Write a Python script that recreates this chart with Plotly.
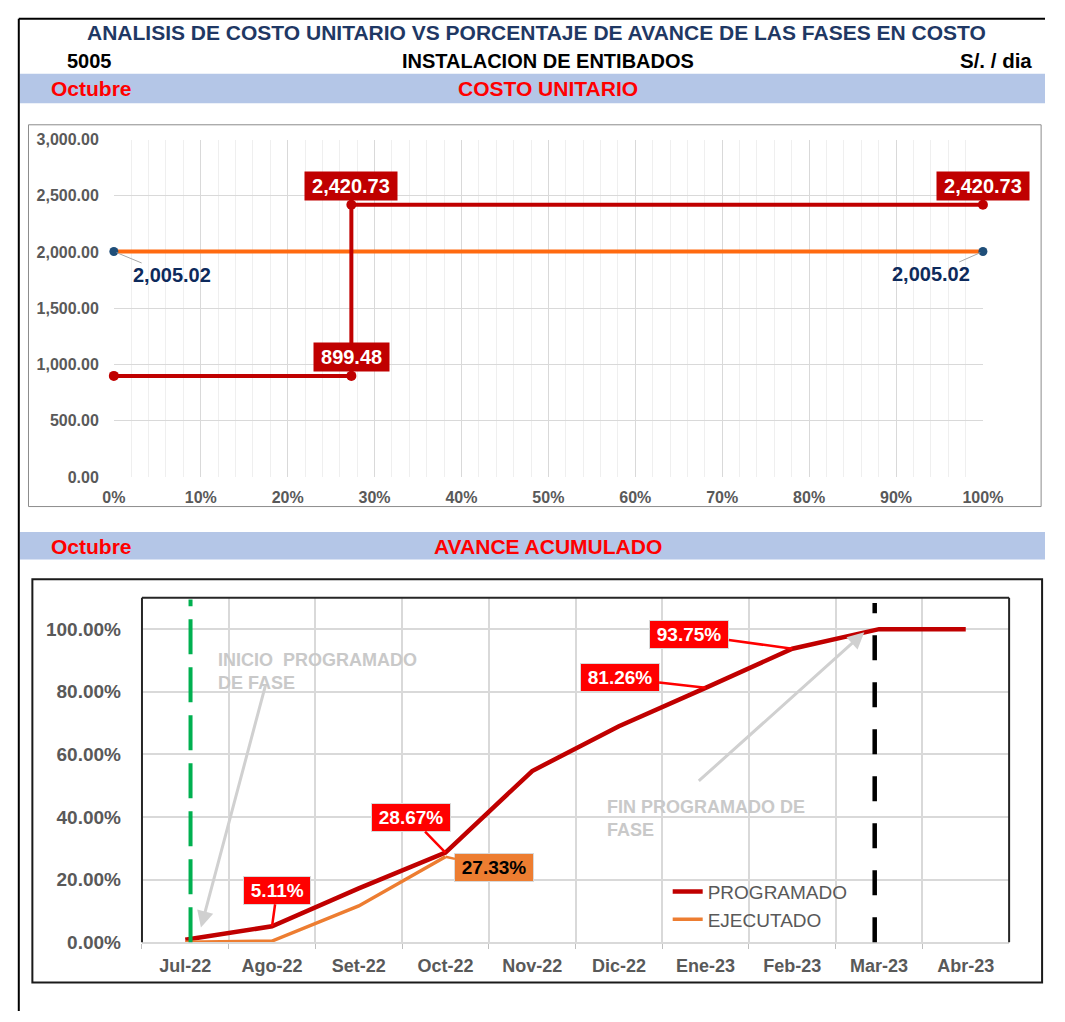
import plotly.graph_objects as go

# ---------------- data ----------------
# Costo unitario (S/. / dia) vs porcentaje de avance
avance_pct = [0.0, 0.2733, 0.2733, 1.0]
costo_programado = [899.48, 899.48, 2420.73, 2420.73]
avance_ejec_pct = [0.0, 1.0]
costo_ejecutado = [2005.02, 2005.02]

# Avance acumulado mensual
meses = ["Jul-22", "Ago-22", "Set-22", "Oct-22", "Nov-22",
         "Dic-22", "Ene-23", "Feb-23", "Mar-23", "Abr-23"]
avance_programado = [0.008, 0.0511, 0.172, 0.2867, 0.547, 0.690, 0.8126, 0.9375, 1.0, 1.0]
avance_ejecutado = [0.0, 0.004, 0.116, 0.2733]

inicio_fase = "Jul-22"
fin_fase = "Mar-23"

# ---------------- styling ----------------
W, H = 1065, 1022
ARIAL = "Liberation Sans, Arial, sans-serif"
GRAY_TXT = "#595959"
GRID = "#D9D9D9"
DARK_RED = "#C00000"
ORANGE_TOP = "#FF6A10"
ORANGE = "#ED7D31"
RED = "#FF0000"
THIN = "\u2009"


def px(x):
    return x / W


def py(y):
    return 1 - y / H


fig = go.Figure()

# ---- top chart: costo unitario ----
fig.add_trace(go.Scatter(
    x=avance_ejec_pct, y=costo_ejecutado, mode="lines+markers",
    line=dict(color=ORANGE_TOP, width=4),
    marker=dict(color="#1F4E79", size=9),
    cliponaxis=False,
    xaxis="x", yaxis="y", showlegend=False, hoverinfo="skip"))
fig.add_trace(go.Scatter(
    x=avance_pct, y=costo_programado, mode="lines+markers",
    line=dict(color=DARK_RED, width=4),
    marker=dict(color=DARK_RED, size=10),
    cliponaxis=False,
    xaxis="x", yaxis="y", showlegend=False, hoverinfo="skip"))

# ---- bottom chart: avance acumulado ----
fig.add_trace(go.Scatter(
    x=meses, y=avance_programado, mode="lines", name="PROGRAMADO",
    line=dict(color=DARK_RED, width=4.5),
    xaxis="x2", yaxis="y2", hoverinfo="skip"))
fig.add_trace(go.Scatter(
    x=meses[:len(avance_ejecutado)], y=avance_ejecutado, mode="lines", name="EJECUTADO",
    line=dict(color=ORANGE, width=3.5),
    xaxis="x2", yaxis="y2", hoverinfo="skip"))

bold_tick = dict(family=ARIAL, size=16, color=GRAY_TXT, weight="bold")

fig.update_layout(
    width=W, height=H,
    margin=dict(l=0, r=0, t=0, b=0),
    paper_bgcolor="white", plot_bgcolor="white",
    xaxis=dict(domain=[px(105), px(1001)], anchor="y", range=[0, 1],
               tick0=0, dtick=0.1, tickformat=".0%",
               showgrid=True, gridcolor=GRID, gridwidth=1,
               minor=dict(dtick=0.02, showgrid=True, gridcolor="#EFEFEF", gridwidth=1),
               zeroline=False, showline=False, ticks="",
               tickfont=bold_tick, ticklabelstandoff=9),
    yaxis=dict(domain=[py(478), py(134)], anchor="x", range=[0, 3000],
               dtick=500, tickformat=",.2f",
               showgrid=True, gridcolor=GRID, gridwidth=1,
               zeroline=False, showline=False, ticks="",
               tickfont=bold_tick, ticklabelstandoff=14),
    xaxis2=dict(domain=[px(134), px(1028)], anchor="y2", type="category",
                categoryorder="array", categoryarray=meses,
                range=[-0.5, len(meses) - 0.5],
                tickson="boundaries", ticks="outside", ticklen=5, tickcolor="#BFBFBF",
                showgrid=True, gridcolor=GRID, gridwidth=1.5,
                showline=True, linecolor=GRID, linewidth=1.5,
                tickfont=dict(family=ARIAL, size=18, color=GRAY_TXT, weight="bold"),
                ticklabelstandoff=6),
    yaxis2=dict(domain=[py(952), py(601)], anchor="x2", range=[0, 1.1],
                dtick=0.2, tickformat=".2%",
                showgrid=True, gridcolor=GRID, gridwidth=1.5,
                zeroline=False, showline=False, ticks="",
                tickfont=dict(family=ARIAL, size=19, color=GRAY_TXT, weight="bold"),
                ticklabelstandoff=20),
    legend=dict(x=px(676), y=py(881), xanchor="left", yanchor="top",
                bgcolor="rgba(0,0,0,0)", itemwidth=30,
                font=dict(family=ARIAL, size=19, color=GRAY_TXT)),
    showlegend=True,
)

shapes = []
# page frame (top and left rules)
shapes.append(dict(type="line", xref="paper", yref="paper", x0=px(7), x1=px(1065),
                   y0=py(11), y1=py(11), line=dict(color="black", width=2)))
shapes.append(dict(type="line", xref="paper", yref="paper", x0=px(7), x1=px(7),
                   y0=py(11), y1=0, line=dict(color="black", width=2)))
# section bands
for y0, y1 in [(67, 97), (534, 562)]:
    shapes.append(dict(type="rect", xref="paper", yref="paper", x0=px(8), x1=1,
                       y0=py(y1), y1=py(y0), fillcolor="#B4C6E7", line=dict(width=0),
                       layer="below"))
# chart frames
shapes.append(dict(type="rect", xref="paper", yref="paper", x0=px(17), x1=px(1061),
                   y0=py(508), y1=py(119), line=dict(color="#8C8C8C", width=1)))
shapes.append(dict(type="rect", xref="paper", yref="paper", x0=px(21), x1=px(1062),
                   y0=py(993), y1=py(582), line=dict(color="#1A1A1A", width=2)))
# bottom plot-area border (left, top, right)
for (a, b, c, d) in [(0, 0, 0, 1), (0, 1, 1, 1), (1, 0, 1, 1)]:
    shapes.append(dict(type="line", xref="x2 domain", yref="y2 domain",
                       x0=a, y0=b, x1=c, y1=d, line=dict(color="#262626", width=2)))
# phase start / end markers
i_ini = meses.index(inicio_fase)
i_fin = meses.index(fin_fase)
shapes.append(dict(type="line", xref="x2", yref="y2 domain", x0=i_ini + 0.06, x1=i_ini + 0.06,
                   y0=0, y1=0.995, line=dict(color="#00B050", width=4, dash="35px,13px")))
shapes.append(dict(type="line", xref="x2", yref="y2 domain", x0=i_fin - 0.05, x1=i_fin - 0.05,
                   y0=0, y1=0.985, line=dict(color="black", width=4.5, dash="25px,22px")))
fig.update_layout(shapes=shapes)

ann = []


def head(text, x, y, size, color, anchor="center", family=ARIAL, weight="bold"):
    ann.append(dict(text=text, x=px(x), y=py(y), xref="paper", yref="paper",
                    xanchor=anchor, yanchor="middle", showarrow=False,
                    font=dict(family=family, size=size, color=color, weight=weight)))


head("ANALISIS DE COSTO UNITARIO VS PORCENTAJE DE AVANCE DE LAS FASES EN COSTO",
     541, 25, 21, "#1F3864")
head("5005", 55, 54, 20, "black", anchor="left")
head("INSTALACION DE ENTIBADOS", 553, 54, 20, "black")
head("S/. / dia", 1054, 54, 20.5, "black", anchor="right")
head("Octubre", 38, 82, 21, RED, anchor="left")
head("COSTO UNITARIO", 553, 82, 21, RED)
head("Octubre", 38, 549, 21, RED, anchor="left")
head("AVANCE ACUMULADO", 553, 549, 21, RED)

# top chart labels
lbl_font = dict(family=ARIAL, size=20, color="white", weight="bold")
for xi, yi in [(avance_pct[1], costo_programado[1]),
               (avance_pct[2], costo_programado[2]),
               (avance_pct[3], costo_programado[3])]:
    ann.append(dict(text=f"{THIN}{yi:,.2f}{THIN}", x=xi, y=yi, xref="x", yref="y",
                    showarrow=False, yshift=19, bgcolor=DARK_RED, borderpad=3,
                    font=lbl_font))
for xi, yi, axo, ayo in [(avance_ejec_pct[0], costo_ejecutado[0], 58, 24),
                         (avance_ejec_pct[1], costo_ejecutado[1], -52, 23)]:
    ann.append(dict(text=f"{yi:,.2f}", x=xi, y=yi, xref="x", yref="y",
                    showarrow=True, arrowhead=0, arrowwidth=1, arrowcolor="#A6A6A6",
                    ax=axo, ay=ayo, standoff=3,
                    font=dict(family=ARIAL, size=20, color="#0D2A5C", weight="bold")))

# bottom chart callouts
callouts = [
    (meses[1], avance_programado[1], 5, -36, RED, "white"),
    (meses[3], avance_programado[3], -34, -35, RED, "white"),
    (meses[3], avance_ejecutado[3], 49, 11, ORANGE, "black"),
    (meses[6], avance_programado[6], -86, -10, RED, "white"),
    (meses[7], avance_programado[7], -103, -14, RED, "white"),
]
for xm, yv, axo, ayo, bg, fc in callouts:
    ann.append(dict(text=f"{THIN}{yv * 100:.2f}%{THIN}", x=xm, y=yv, xref="x2", yref="y2",
                    showarrow=True, arrowhead=0, arrowwidth=2.5, arrowcolor=bg,
                    ax=axo, ay=ayo, bgcolor=bg, borderpad=3,
                    bordercolor="#D9D9D9", borderwidth=1,
                    font=dict(family=ARIAL, size=19, color=fc, weight="bold")))

# phase notes
note_font = dict(family=ARIAL, size=18, color="#C9C9C9", weight="bold")
ann.append(dict(text="INICIO  PROGRAMADO<br>DE FASE", x=i_ini + 0.35, y=0.94,
                xref="x2", yref="y2", xanchor="left", yanchor="top", align="left",
                showarrow=False, font=note_font))
ann.append(dict(text="", x=i_ini + 0.18, y=0.047, xref="x2", yref="y2",
                showarrow=True, arrowhead=2, arrowsize=1.1, arrowwidth=3,
                arrowcolor="#D0D0D0", ax=65, ay=-244))
ann.append(dict(text="FIN PROGRAMADO DE<br>FASE", x=4.835, y=0.469,
                xref="x2", yref="y2", xanchor="left", yanchor="top", align="left",
                showarrow=False, font=note_font))
ann.append(dict(text="", x=i_fin - 0.17, y=0.99, xref="x2", yref="y2",
                showarrow=True, arrowhead=2, arrowsize=1.1, arrowwidth=3,
                arrowcolor="#D0D0D0", ax=-167, ay=150))

fig.update_layout(annotations=ann)

fig.write_html("out.html", config={"displayModeBar": False})
